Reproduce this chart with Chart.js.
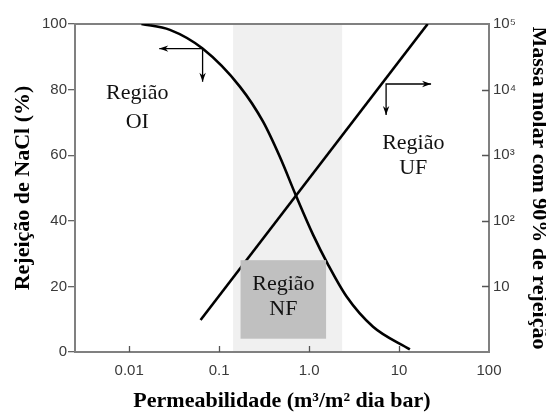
<!DOCTYPE html>
<html>
<head>
<meta charset="utf-8">
<script src="https://cdn.jsdelivr.net/npm/chart.js@4/dist/chart.umd.min.js"></script>
<style>
  html, body { margin: 0; padding: 0; background: #ffffff; }
  #wrap { width: 546px; height: 412px; }
</style>
</head>
<body>
<div id="wrap"><canvas id="c" width="546" height="412"></canvas></div>
<script>
// NaCl rejection vs. membrane permeability (left axis)
const rejPermeability = [0.0137, 0.0284, 0.0655, 0.170, 0.308, 0.473, 0.724, 1.109, 1.614, 2.61, 5.14, 13.2];
const rejNaCl         = [100, 98.2, 92.5, 80.9, 70.2, 59.5, 47.3, 35.7, 26.8, 16.9, 7.7, 0.8];

// Molar mass retained at 90% rejection vs. permeability (right axis)
const massPermeability = [0.0622, 20.8];
const molarMass        = [3.08, 100000];

// Axis ticks
const xTicks          = [0.01, 0.1, 1, 10, 100];
const xTickLabels     = ['0.01', '0.1', '1.0', '10', '100'];
const leftTicks       = [0, 20, 40, 60, 80, 100];
const rightTicks      = [10, 100, 1000, 10000, 100000];
const rightTickLabels = ['10', '10²', '10³', '10⁴', '10⁵'];

// Nanofiltration permeability range and its label block
const nfBand   = [0.143, 2.33];
const nfBoxX   = [0.173, 1.545];
const nfBoxY   = [4.05, 28.0];

// Region captions: [permeability, rejection %] for each text line
const regionNames = ['OI', 'UF', 'NF'];
const regionX     = [0.0123, 14.4, 0.518];
const regionY1    = [79.0, 63.7, 20.7];
const regionY2    = [70.1, 56.1, 13.1];

// Direction arrows: corner point and the two tips
const oiArrow = { x: 0.0655, y: 92.5, xTip: 0.0216, yTip: 82.4 };      // left axis units
const ufArrow = { x: 7.18, y: 12170, xTip: 22.7, yTip: 4100 };         // right axis units

const serif = '"Liberation Serif", "Times New Roman", serif';
const sans  = '"Liberation Sans", Arial, sans-serif';

function arrowHead(ctx, x, y, dx, dy) {
  const len = 9, half = 3.2;
  const px = -dy, py = dx;
  ctx.beginPath();
  ctx.moveTo(x, y);
  ctx.lineTo(x - dx * len + px * half, y - dy * len + py * half);
  ctx.lineTo(x - dx * len * 0.7, y - dy * len * 0.7);
  ctx.lineTo(x - dx * len - px * half, y - dy * len - py * half);
  ctx.closePath();
  ctx.fill();
}

function drawArrows(ctx, xs, ys, a) {
  const cx = xs.getPixelForValue(a.x), cy = ys.getPixelForValue(a.y);
  const tx = xs.getPixelForValue(a.xTip), ty = ys.getPixelForValue(a.yTip);
  ctx.strokeStyle = '#000';
  ctx.fillStyle = '#000';
  ctx.lineWidth = 1.3;
  ctx.beginPath();
  ctx.moveTo(tx, cy); ctx.lineTo(cx, cy); ctx.lineTo(cx, ty);
  ctx.stroke();
  arrowHead(ctx, tx, cy, Math.sign(tx - cx), 0);
  arrowHead(ctx, cx, ty, 0, 1);
}

const decor = {
  id: 'decor',
  beforeDatasetsDraw(chart) {
    const { ctx, chartArea: a, scales } = chart;
    const xs = scales.x;
    ctx.save();
    // light band for the NF range
    const b0 = xs.getPixelForValue(nfBand[0]), b1 = xs.getPixelForValue(nfBand[1]);
    ctx.fillStyle = '#f0f0f0';
    ctx.fillRect(b0, a.top, b1 - b0, a.bottom - a.top);
    // plot frame
    ctx.strokeStyle = '#808080';
    ctx.lineWidth = 2;
    ctx.strokeRect(a.left, a.top, a.right - a.left, a.bottom - a.top);
    // inward tick marks on the bottom and right axes
    ctx.strokeStyle = '#555';
    ctx.lineWidth = 1.3;
    ctx.beginPath();
    xTicks.forEach(v => {
      const px = Math.round(xs.getPixelForValue(v)) + 0.5;
      if (px > a.left + 2 && px < a.right - 2) { ctx.moveTo(px, a.bottom); ctx.lineTo(px, a.bottom - 6); }
    });
    rightTicks.forEach(v => {
      const py = Math.round(scales.yR.getPixelForValue(v)) + 0.5;
      if (py > a.top + 2 && py < a.bottom - 2) { ctx.moveTo(a.right, py); ctx.lineTo(a.right - 7, py); }
    });
    ctx.stroke();
    ctx.restore();
  },
  afterDatasetsDraw(chart) {
    const { ctx, scales } = chart;
    const xs = scales.x, yl = scales.yL, yr = scales.yR;
    ctx.save();
    // NF block
    const bx0 = xs.getPixelForValue(nfBoxX[0]), bx1 = xs.getPixelForValue(nfBoxX[1]);
    const by0 = yl.getPixelForValue(nfBoxY[1]), by1 = yl.getPixelForValue(nfBoxY[0]);
    ctx.fillStyle = '#c0c0c0';
    ctx.fillRect(bx0, by0, bx1 - bx0, by1 - by0);
    // region captions
    ctx.fillStyle = '#111';
    ctx.font = '22px ' + serif;
    ctx.textAlign = 'center';
    ctx.textBaseline = 'middle';
    regionNames.forEach((n, i) => {
      const px = xs.getPixelForValue(regionX[i]);
      ctx.fillText('Região', px, yl.getPixelForValue(regionY1[i]));
      ctx.fillText(n, px, yl.getPixelForValue(regionY2[i]));
    });
    // arrows
    drawArrows(ctx, xs, yl, oiArrow);
    drawArrows(ctx, xs, yr, ufArrow);
    ctx.restore();
  }
};

new Chart(document.getElementById('c'), {
  type: 'line',
  data: {
    datasets: [
      {
        label: 'Rejeição de NaCl',
        data: rejPermeability.map((x, i) => ({ x, y: rejNaCl[i] })),
        yAxisID: 'yL',
        borderColor: '#000',
        borderWidth: 2.6,
        pointRadius: 0,
        cubicInterpolationMode: 'monotone',
        fill: false
      },
      {
        label: 'Massa molar',
        data: massPermeability.map((x, i) => ({ x, y: molarMass[i] })),
        yAxisID: 'yR',
        borderColor: '#000',
        borderWidth: 2.6,
        pointRadius: 0,
        fill: false
      }
    ]
  },
  options: {
    responsive: false,
    animation: false,
    devicePixelRatio: 1,
    layout: { padding: { top: 24, left: 0, right: 0, bottom: 0 } },
    plugins: { legend: { display: false }, tooltip: { enabled: false } },
    scales: {
      x: {
        type: 'logarithmic',
        position: 'bottom',
        min: 0.0025,
        max: 100,
        afterBuildTicks: s => { s.ticks = xTicks.map(v => ({ value: v })); },
        afterFit: s => { s.height = 60; },
        ticks: {
          autoSkip: false, maxRotation: 0, padding: 10,
          color: '#3a3a3a', font: { family: sans, size: 15 },
          callback: (v, i) => xTickLabels[i]
        },
        grid: { display: false, drawTicks: false },
        border: { display: false },
        title: {
          display: true, text: 'Permeabilidade (m³/m² dia bar)', color: '#000',
          font: { family: serif, size: 22, weight: 'bold', lineHeight: 1 },
          padding: { top: 0, bottom: 0 }
        }
      },
      yL: {
        type: 'linear',
        position: 'left',
        min: 0,
        max: 100,
        afterBuildTicks: s => { s.ticks = leftTicks.map(v => ({ value: v })); },
        afterFit: s => { s.width = 75; },
        ticks: { padding: 1, color: '#3a3a3a', font: { family: sans, size: 15 } },
        grid: { drawOnChartArea: false, drawTicks: true, tickLength: 7, color: '#666', lineWidth: 1.3 },
        border: { display: false },
        title: {
          display: true, text: 'Rejeição de NaCl (%)', color: '#000',
          font: { family: serif, size: 22, weight: 'bold', lineHeight: 1 },
          padding: { top: 12, bottom: 0 }
        }
      },
      yR: {
        type: 'logarithmic',
        position: 'right',
        min: 1,
        max: 100000,
        afterBuildTicks: s => { s.ticks = rightTicks.map(v => ({ value: v })); },
        afterFit: s => { s.width = 57; },
        ticks: {
          padding: 4, color: '#3a3a3a', font: { family: sans, size: 15 },
          callback: (v, i) => rightTickLabels[i]
        },
        grid: { display: false, drawTicks: false },
        border: { display: false },
        title: {
          display: true, text: 'Massa molar com 90% de rejeição', color: '#000',
          font: { family: serif, size: 22, weight: 'bold', lineHeight: 1 },
          padding: { top: -4, bottom: 0 }
        }
      }
    }
  },
  plugins: [decor]
});
</script>
</body>
</html>
